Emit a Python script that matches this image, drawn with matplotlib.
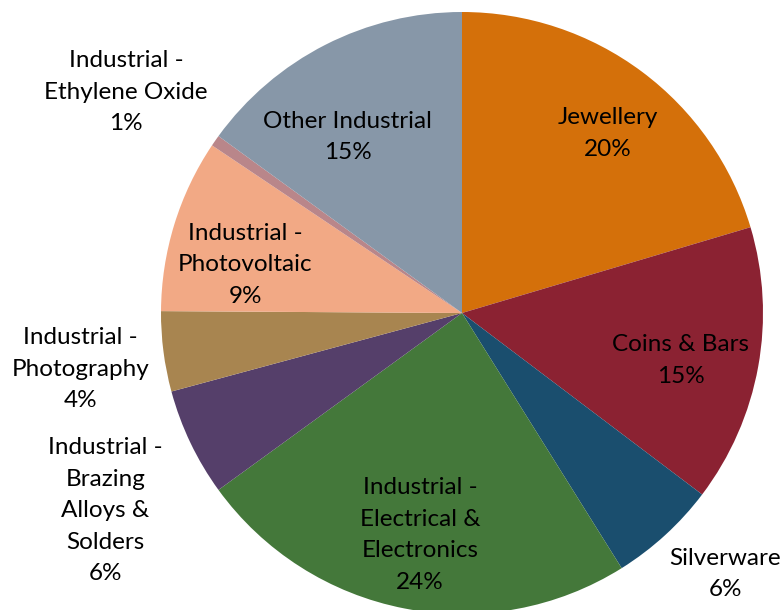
import matplotlib.pyplot as plt

# silver demand by end use, share of total (%)
categories = [
    "Jewellery",
    "Coins & Bars",
    "Silverware",
    "Industrial -\nElectrical &\nElectronics",
    "Industrial -\nBrazing\nAlloys &\nSolders",
    "Industrial -\nPhotography",
    "Industrial -\nPhotovoltaic",
    "Industrial -\nEthylene Oxide",
    "Other Industrial",
]
shares = [20.4, 14.9, 5.8, 23.9, 5.8, 4.3, 9.3, 0.6, 15.0]
colors = ["#D4700A", "#8B2232", "#1A4E6E", "#44783A", "#553F6A",
          "#A88550", "#F2A985", "#B9868A", "#8797A8"]

# label centres in pie units (radius = 1)
label_xy = [(0.483, 0.597), (0.727, -0.157), (0.874, -0.867),
            (-0.14, -0.737), (-1.185, -0.657), (-1.267, -0.187),
            (-0.72, 0.160), (-1.116, 0.734), (-0.379, 0.585)]

plt.rcParams['font.family'] = ['Lato', 'DejaVu Sans']

fig = plt.figure(figsize=(7.84, 6.10), dpi=100)
ax = fig.add_axes([161 / 784, -4 / 610, 602 / 784, 602 / 610])

wedges, _ = ax.pie(shares, colors=colors, startangle=90, counterclock=False,
                   radius=1, wedgeprops=dict(linewidth=0.3, edgecolor='none'))

for name, val, (x, y) in zip(categories, shares, label_xy):
    ax.text(x, y, f"{name}\n{val:.0f}%", ha='center', va='center',
            fontsize=17.5, linespacing=1.62, color='black')

ax.set_xlim(-1, 1)
ax.set_ylim(-1, 1)
ax.set_aspect('equal')
ax.axis('off')

fig.savefig('out.png', dpi=100)
